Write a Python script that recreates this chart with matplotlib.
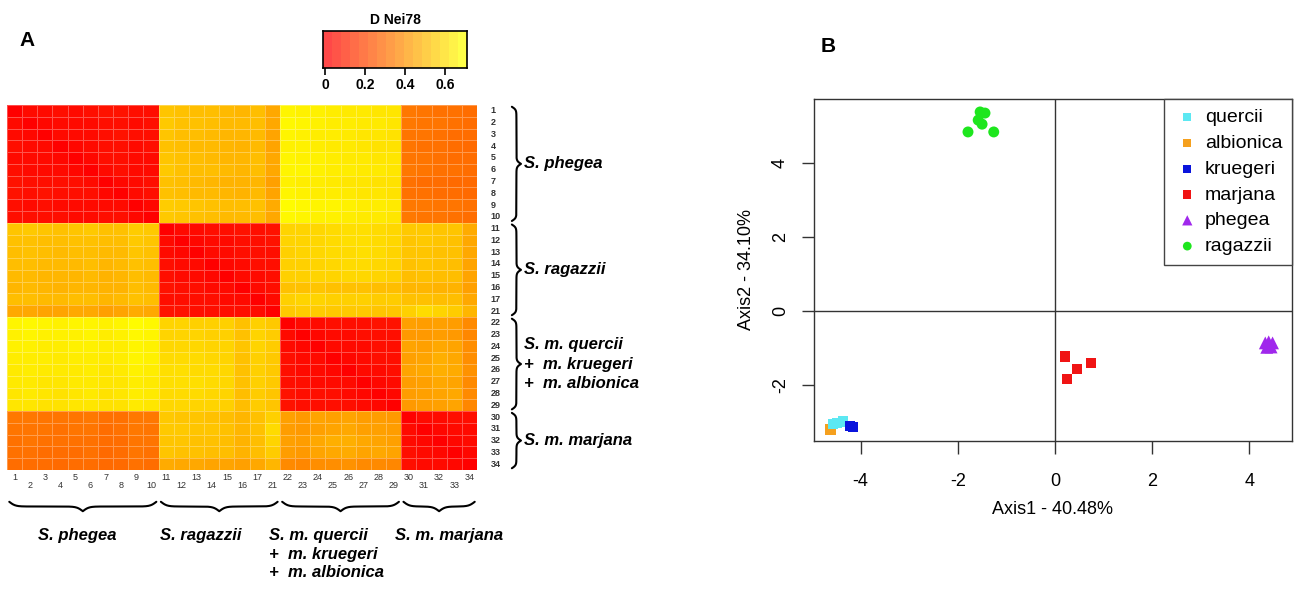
#! /usr/bin/python
# -*- coding:utf-8 -*-

# ━━━━━━━━━━━━━━━━━━━━━━━━━━━━━━━━━━━━━━━━━━━━━━━━━━━━━━━━━━
# Import
# ━━━━━━━━━━━━━━━━━━━━━━━━━━━━━━━━━━━━━━━━━━━━━━━━━━━━━━━━━━
import numpy as np
import matplotlib
matplotlib.use('Agg')
import matplotlib.pyplot as plt
from matplotlib.colors import LinearSegmentedColormap

plt.rcParams['font.family'] = ['Liberation Sans', 'DejaVu Sans']
plt.rcParams['axes.unicode_minus'] = False


# ━━━━━━━━━━━━━━━━━━━━━━━━━━━━━━━━━━━━━━━━━━━━━━━━━━━━━━━━━━
# Data
# ━━━━━━━━━━━━━━━━━━━━━━━━━━━━━━━━━━━━━━━━━━━━━━━━━━━━━━━━━━
sample_labels = ['1', '2', '3', '4', '5', '6', '7', '8', '9', '10',
                 '11', '12', '13', '14', '15', '16', '17', '21',
                 '22', '23', '24', '25', '26', '27', '28', '29',
                 '30', '31', '32', '33', '34']
group_names = ['S. phegea', 'S. ragazzii',
               'S. m. quercii\n+  m. kruegeri\n+  m. albionica', 'S. m. marjana']
group_sizes = [10, 8, 8, 5]

# Nei 1978 distance, rows/cols in sample_labels order
d_nei = [
    # phegea
    [.00, .03, .03, .04, .03, .04, .05, .05, .04, .04, .54, .53, .52, .52, .51, .50, .52, .46, .67, .66, .66, .65, .64, .64, .63, .63, .33, .32, .31, .31, .30],
    [.03, .00, .02, .03, .03, .03, .04, .04, .03, .04, .55, .53, .53, .52, .51, .51, .52, .46, .68, .67, .66, .65, .65, .64, .64, .63, .33, .32, .32, .31, .30],
    [.03, .02, .00, .03, .03, .03, .04, .05, .04, .04, .54, .52, .52, .51, .50, .50, .51, .45, .67, .66, .65, .65, .64, .63, .63, .62, .32, .32, .31, .30, .30],
    [.04, .03, .03, .00, .02, .03, .04, .04, .03, .04, .53, .52, .51, .51, .50, .49, .51, .45, .66, .66, .65, .64, .64, .63, .62, .62, .32, .31, .31, .30, .29],
    [.03, .03, .03, .02, .00, .02, .04, .04, .03, .03, .54, .53, .52, .51, .50, .50, .52, .46, .67, .66, .66, .65, .64, .64, .63, .63, .32, .32, .31, .30, .30],
    [.04, .03, .03, .03, .02, .00, .03, .04, .03, .03, .55, .53, .52, .52, .51, .50, .52, .46, .67, .67, .66, .65, .65, .64, .64, .63, .33, .32, .31, .31, .30],
    [.05, .04, .04, .04, .04, .03, .00, .02, .03, .04, .53, .52, .51, .50, .49, .49, .50, .44, .66, .65, .65, .64, .63, .63, .62, .62, .31, .30, .30, .29, .29],
    [.05, .04, .05, .04, .04, .04, .02, .00, .03, .04, .53, .52, .51, .51, .50, .49, .51, .45, .67, .66, .65, .65, .64, .63, .63, .62, .31, .31, .30, .30, .29],
    [.04, .03, .04, .03, .03, .03, .03, .03, .00, .02, .56, .55, .54, .53, .52, .52, .53, .47, .69, .68, .67, .67, .66, .65, .65, .64, .33, .33, .32, .32, .31],
    [.04, .04, .04, .04, .03, .03, .04, .04, .02, .00, .55, .54, .53, .52, .51, .51, .52, .46, .68, .67, .66, .66, .65, .64, .64, .63, .33, .32, .32, .31, .30],
    # ragazzii
    [.54, .55, .54, .53, .54, .55, .53, .53, .56, .55, .00, .03, .03, .04, .04, .05, .04, .05, .58, .58, .59, .60, .61, .61, .60, .59, .55, .55, .54, .54, .47],
    [.53, .53, .52, .52, .53, .53, .52, .52, .55, .54, .03, .00, .02, .03, .03, .04, .04, .05, .58, .58, .59, .60, .61, .61, .60, .59, .54, .55, .54, .53, .46],
    [.52, .53, .52, .51, .52, .52, .51, .51, .54, .53, .03, .02, .00, .03, .03, .04, .04, .04, .57, .58, .59, .60, .60, .61, .60, .58, .54, .54, .53, .53, .46],
    [.52, .52, .51, .51, .51, .52, .50, .51, .53, .52, .04, .03, .03, .00, .02, .03, .04, .04, .57, .57, .58, .59, .60, .60, .59, .58, .53, .54, .53, .52, .45],
    [.51, .51, .50, .50, .50, .51, .49, .50, .52, .51, .04, .03, .03, .02, .00, .03, .03, .04, .57, .57, .58, .58, .59, .59, .58, .57, .52, .53, .52, .52, .45],
    [.50, .51, .50, .49, .50, .50, .49, .49, .52, .51, .05, .04, .04, .03, .03, .00, .03, .04, .53, .53, .54, .53, .53, .53, .52, .52, .50, .50, .49, .49, .44],
    [.52, .52, .51, .51, .52, .52, .50, .51, .53, .52, .04, .04, .04, .04, .03, .03, .00, .03, .57, .58, .58, .57, .57, .57, .56, .56, .53, .53, .52, .52, .46],
    [.46, .46, .45, .45, .46, .46, .44, .45, .47, .46, .05, .05, .04, .04, .04, .04, .03, .00, .55, .56, .56, .55, .55, .55, .54, .54, .57, .60, .58, .56, .50],
    # quercii + kruegeri + albionica
    [.67, .68, .67, .66, .67, .67, .66, .67, .69, .68, .58, .58, .57, .57, .57, .53, .57, .55, .00, .03, .03, .04, .04, .04, .05, .05, .44, .43, .44, .43, .38],
    [.66, .67, .66, .66, .66, .67, .65, .66, .68, .67, .58, .58, .58, .57, .57, .53, .58, .56, .03, .00, .02, .03, .03, .04, .04, .04, .42, .42, .43, .42, .37],
    [.66, .66, .65, .65, .66, .66, .65, .65, .67, .66, .59, .59, .59, .58, .58, .54, .58, .56, .03, .02, .00, .03, .03, .03, .04, .04, .45, .44, .46, .45, .39],
    [.65, .65, .65, .64, .65, .65, .64, .65, .67, .66, .60, .60, .60, .59, .58, .53, .57, .55, .04, .03, .03, .00, .02, .03, .04, .04, .44, .45, .48, .46, .39],
    [.64, .65, .64, .64, .64, .65, .63, .64, .66, .65, .61, .61, .60, .60, .59, .53, .57, .55, .04, .03, .03, .02, .00, .03, .03, .04, .45, .46, .48, .47, .40],
    [.64, .64, .63, .63, .64, .64, .63, .63, .65, .64, .61, .61, .61, .60, .59, .53, .57, .55, .04, .04, .03, .03, .03, .00, .02, .03, .43, .44, .46, .45, .38],
    [.63, .64, .63, .62, .63, .64, .62, .63, .65, .64, .60, .60, .60, .59, .58, .52, .56, .54, .05, .04, .04, .04, .03, .02, .00, .02, .43, .44, .45, .46, .38],
    [.63, .63, .62, .62, .63, .63, .62, .62, .64, .63, .59, .59, .58, .58, .57, .52, .56, .54, .05, .04, .04, .04, .04, .03, .02, .00, .42, .43, .44, .45, .37],
    # marjana
    [.33, .33, .32, .32, .32, .33, .31, .31, .33, .33, .55, .54, .54, .53, .52, .50, .53, .57, .44, .42, .45, .44, .45, .43, .43, .42, .00, .03, .03, .04, .04],
    [.32, .32, .32, .31, .32, .32, .30, .31, .33, .32, .55, .55, .54, .54, .53, .50, .53, .60, .43, .42, .44, .45, .46, .44, .44, .43, .03, .00, .02, .03, .03],
    [.31, .32, .31, .31, .31, .31, .30, .30, .32, .32, .54, .54, .53, .53, .52, .49, .52, .58, .44, .43, .46, .48, .48, .46, .45, .44, .03, .02, .00, .02, .03],
    [.31, .31, .30, .30, .30, .31, .29, .30, .32, .31, .54, .53, .53, .52, .52, .49, .52, .56, .43, .42, .45, .46, .47, .45, .46, .45, .04, .03, .02, .00, .02],
    [.30, .30, .30, .29, .30, .30, .29, .29, .31, .30, .47, .46, .46, .45, .45, .44, .46, .50, .38, .37, .39, .39, .40, .38, .38, .37, .04, .03, .03, .02, .00],
]

# PCoA scores
pcoa_groups = ['quercii', 'albionica', 'kruegeri', 'marjana', 'phegea', 'ragazzii']
pcoa_colors = ['#5CE8F2', '#F5A01E', '#0A14DC', '#F01414', '#A028EC', '#1EE61E']
pcoa_markers = ['s', 's', 's', 's', '^', 'o']
axis1 = [
    [-4.57, -4.48, -4.36],
    [-4.62],
    [-4.22, -4.16],
    [0.21, 0.74, 0.45, 0.25],
    [4.33, 4.40, 4.48, 4.36, 4.45, 4.41],
    [-1.54, -1.44, -1.58, -1.50, -1.79, -1.26],
]
axis2 = [
    [-3.05, -3.02, -2.98],
    [-3.20],
    [-3.10, -3.14],
    [-1.23, -1.41, -1.57, -1.84],
    [-0.86, -0.83, -0.86, -0.98, -0.97, -0.92],
    [5.38, 5.35, 5.16, 5.05, 4.84, 4.84],
]
axis_pct = [40.48, 34.10]


# ━━━━━━━━━━━━━━━━━━━━━━━━━━━━━━━━━━━━━━━━━━━━━━━━━━━━━━━━━━
# Helpers
# ━━━━━━━━━━━━━━━━━━━━━━━━━━━━━━━━━━━━━━━━━━━━━━━━━━━━━━━━━━
W, H = 1296, 594


def rect(x0, y0, x1, y1):
    # pixel box (top-left origin) --> figure fraction
    return [x0 / W, 1 - y1 / H, (x1 - x0) / W, (y1 - y0) / H]


def fxy(x, y):
    return x / W, 1 - y / H


def brace(ax, a, b, base, depth, vertical, beta=9.0):
    half = np.linspace(0, (b - a) / 2, 150)
    h = (1 / (1 + np.exp(-beta * half)) +
         1 / (1 + np.exp(-beta * (half - half[-1])))) - 0.5
    h = np.concatenate((h, h[-2::-1]))
    t = np.linspace(a, b, len(h))
    s = base + depth * h
    if vertical:
        ax.plot(s, t, color='black', lw=1.5, clip_on=False, solid_capstyle='round')
    else:
        ax.plot(t, s, color='black', lw=1.5, clip_on=False, solid_capstyle='round')


# ━━━━━━━━━━━━━━━━━━━━━━━━━━━━━━━━━━━━━━━━━━━━━━━━━━━━━━━━━━
# Main
# ━━━━━━━━━━━━━━━━━━━━━━━━━━━━━━━━━━━━━━━━━━━━━━━━━━━━━━━━━━
if __name__ == '__main__':
    fig = plt.figure(figsize=(W / 100, H / 100), dpi=100)
    heat = LinearSegmentedColormap.from_list('heat', ['#FF0000', '#FF8000', '#FFFF00'])

    # --- A: heatmap
    mat = np.array(d_nei)
    n = len(sample_labels)
    ax = fig.add_axes(rect(7, 105, 477, 470))
    ax.pcolormesh(mat, cmap=heat, vmin=0, vmax=0.7,
                  edgecolors=(1, 1, 1, 0.3), linewidth=0.4)
    ax.set_xlim(0, n)
    ax.set_ylim(n, 0)
    ax.axis('off')

    for i, lab in enumerate(sample_labels):
        ax.text(n + 0.9, i + 0.5, lab, ha='left', va='center', fontsize=6.5,
                fontweight='bold', color='#333333', clip_on=False)
        yy = n + 0.6 if i % 2 == 0 else n + 1.35
        ax.text(i + 0.5, yy, lab, ha='center', va='center', fontsize=6.5,
                color='#333333', clip_on=False)

    start = 0
    for g, size in enumerate(group_sizes):
        brace(ax, start + 0.15, start + size - 0.15, n + 2.3, 0.6, True, beta=8.0)
        brace(ax, start + 0.15, start + size - 0.15, n + 2.7, 0.8, False, beta=5.0)
        ax.text(n + 3.1, start + size / 2, group_names[g], ha='left', va='center',
                fontsize=12, fontweight='bold', style='italic',
                linespacing=1.35, clip_on=False)
        start += size

    bottom_pos = [(77, 'center'), (201, 'center'), (269, 'left'), (449, 'center')]
    for (x, ha), name in zip(bottom_pos, group_names):
        fig.text(*fxy(x, 528), name, ha=ha, va='top', fontsize=12,
                 fontweight='bold', style='italic', linespacing=1.3,
                 multialignment='left')

    # colour key
    cax = fig.add_axes(rect(323, 31, 467, 68))
    steps = np.linspace(0, 0.7, 16)
    cax.imshow([steps], extent=[-0.01, 0.71, 0, 1], aspect='auto',
               cmap=heat, vmin=0, vmax=0.7, alpha=0.72, interpolation='nearest')
    cax.set_xlim(-0.01, 0.71)
    cax.set_yticks([])
    cax.set_xticks([0, 0.2, 0.4, 0.6])
    cax.set_xticklabels(['0', '0.2', '0.4', '0.6'], fontweight='bold')
    cax.tick_params(axis='x', length=5, width=1.2, labelsize=10, pad=2)
    cax.set_title('D Nei78', fontsize=10, fontweight='bold', pad=5)
    for sp in cax.spines.values():
        sp.set_linewidth(1.2)

    fig.text(*fxy(27, 40), 'A', fontsize=15, fontweight='bold', ha='center', va='center')

    # --- B: PCoA
    bx = fig.add_axes(rect(814, 99, 1292, 441))
    zorders = [3, 2, 4, 3, 3, 3]
    sizes = [55, 55, 55, 55, 85, 62]
    for g, name in enumerate(pcoa_groups):
        bx.scatter(axis1[g], axis2[g], s=sizes[g], marker=pcoa_markers[g],
                   color=pcoa_colors[g], edgecolors='none', label=name,
                   zorder=zorders[g])
    bx.axhline(0, color='#333333', lw=1, zorder=1)
    bx.axvline(0, color='#333333', lw=1, zorder=1)
    bx.set_xlim(-4.96, 4.88)
    bx.set_ylim(-3.51, 5.73)
    bx.set_xticks([-4, -2, 0, 2, 4])
    bx.set_yticks([-2, 0, 2, 4])
    bx.tick_params(axis='both', length=9, width=1, color='#333333', labelsize=13)
    bx.tick_params(axis='x', pad=14)
    bx.tick_params(axis='y', pad=9, labelrotation=90)
    for lab in bx.get_yticklabels():
        lab.set_va('center')
    for sp in bx.spines.values():
        sp.set_linewidth(1)
        sp.set_color('#333333')
    bx.set_xlabel('Axis1 - %.2f%%' % axis_pct[0], fontsize=13, labelpad=8)
    bx.set_ylabel('Axis2 - %.2f%%' % axis_pct[1], fontsize=13, labelpad=12)

    leg = bx.legend(loc='upper right', borderaxespad=0, fancybox=False,
                    edgecolor='#444444', framealpha=1, fontsize=14,
                    handletextpad=0.2, labelspacing=0.42, borderpad=0.5,
                    handlelength=1.4, scatterpoints=1, markerscale=0.8)
    leg.get_frame().set_linewidth(1)

    fig.text(*fxy(828, 47), 'B', fontsize=15, fontweight='bold', ha='center', va='center')

    plt.savefig('out.png', dpi=100)
